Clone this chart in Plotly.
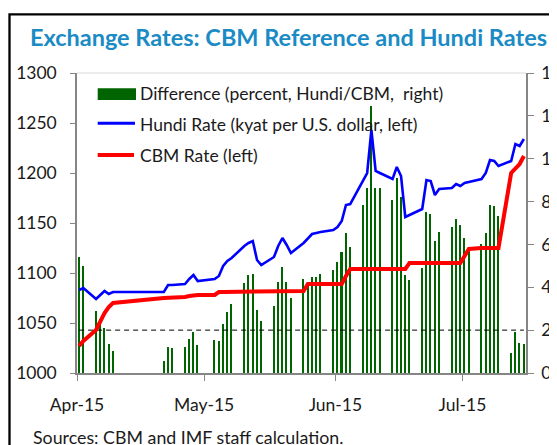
import plotly.graph_objects as go

# ---- data ----
dates = [
    "2015-04-02", "2015-04-03",
    "2015-04-06", "2015-04-07", "2015-04-08", "2015-04-09", "2015-04-10",
    "2015-04-22", "2015-04-23", "2015-04-24",
    "2015-04-27", "2015-04-28", "2015-04-29", "2015-04-30",
    "2015-05-04", "2015-05-05", "2015-05-06", "2015-05-07", "2015-05-08",
    "2015-05-11", "2015-05-12", "2015-05-13", "2015-05-14", "2015-05-15",
    "2015-05-18", "2015-05-19", "2015-05-20", "2015-05-21", "2015-05-22",
    "2015-05-25", "2015-05-26", "2015-05-27", "2015-05-28", "2015-05-29",
    "2015-06-01", "2015-06-02", "2015-06-03", "2015-06-04", "2015-06-05",
    "2015-06-08", "2015-06-09", "2015-06-10", "2015-06-11", "2015-06-12",
    "2015-06-15", "2015-06-16", "2015-06-17", "2015-06-18", "2015-06-19",
    "2015-06-22", "2015-06-23", "2015-06-24", "2015-06-25", "2015-06-26",
    "2015-06-29", "2015-06-30", "2015-07-01", "2015-07-02", "2015-07-03",
    "2015-07-06", "2015-07-07", "2015-07-08", "2015-07-09", "2015-07-10",
    "2015-07-13", "2015-07-14", "2015-07-15", "2015-07-16",
]

hundi_rate = [
    1083, 1085,
    1074, 1078, 1082, 1079, 1081,
    1081, 1088, 1088,
    1089, 1094, 1098, 1092,
    1094, 1097, 1107, 1112, 1115,
    1127, 1130, 1132, 1113, 1108,
    1116, 1127, 1135, 1128, 1120,
    1130, 1135, 1139, 1140, 1141,
    1143, 1146, 1152, 1168, 1169,
    1192, 1200, 1243, 1202, 1200,
    1194, 1206, 1197, 1156, 1158,
    1164, 1193, 1192, 1178, 1184,
    1185, 1189, 1187, 1190, 1191,
    1194, 1200, 1213, 1212, 1207,
    1212, 1229, 1227, 1234,
]

cbm_rate = [
    1027, 1032,
    1043, 1052, 1060, 1066, 1070,
    1075, 1075, 1075,
    1076, 1077, 1078, 1078,
    1078, 1081, 1081, 1081, 1081,
    1081, 1081, 1081, 1081, 1081,
    1081, 1081, 1082, 1082, 1082,
    1082, 1089, 1089, 1089, 1089,
    1089, 1089, 1089, 1097, 1104,
    1104, 1104, 1104, 1104, 1104,
    1104, 1104, 1104, 1104, 1110,
    1110, 1110, 1110, 1110, 1110,
    1110, 1110, 1110, 1117, 1124,
    1125, 1125, 1125, 1125, 1125,
    1200, 1204, 1209, 1217,
]

difference_pct = [
    5.43, 5.00,
    2.90, 2.50, 2.10, 1.37, 1.05,
    0.57, 1.23, 1.17,
    1.23, 1.60, 1.92, 1.31,
    1.55, 1.48, 2.29, 2.85, 3.21,
    4.21, 4.58, 4.63, 2.96, 2.41,
    3.15, 4.27, 4.94, 4.27, 3.52,
    4.40, 4.24, 4.50, 4.46, 4.64,
    4.82, 5.19, 5.63, 6.55, 5.86,
    7.84, 8.65, 12.47, 8.63, 8.63,
    8.09, 9.09, 8.21, 4.58, 4.36,
    4.88, 7.53, 7.40, 6.17, 6.60,
    6.81, 7.17, 6.90, 6.30, 5.80,
    6.00, 6.55, 7.83, 7.78, 7.34,
    0.94, 1.93, 1.42, 1.37,
]

ref_level = 2.0

tick_dates = ["2015-04-01 12:00", "2015-05-01 12:00", "2015-06-01 12:00", "2015-07-01 12:00"]
tick_labels = ["Apr-15", "May-15", "Jun-15", "Jul-15"]

# ---- styling ----
GREEN = "#006400"
BLUE = "#0000FF"
RED = "#FF0000"
AXIS = "#868686"
TEXT = "#1a1a1a"
FONT = "Lato, 'Open Sans', sans-serif"

# the page body adds an 8px margin, so the figure is 8px smaller than the window
OFF = 8
W, H = 557 - OFF, 445 - OFF
L, R, T, B = 77 - OFF, 31, 73 - OFF, 72
PW, PH = W - L - R, H - T - B


# helpers: reference-picture pixels -> paper coordinates
def px(x):
    return (x - OFF - L) / PW


def py(y):
    return (H - B - (y - OFF)) / PH


fig = go.Figure()

# bars on the right-hand axis (drawn underneath the lines)
fig.add_trace(go.Bar(
    x=dates, y=difference_pct, yaxis="y",
    name="Difference (percent, Hundi/CBM,  right)",
    marker=dict(color=GREEN, line=dict(width=0)),
    width=0.36 * 86400000,
    showlegend=False,
))
fig.add_trace(go.Scatter(
    x=[dates[0], dates[-1]], y=[ref_level, ref_level], yaxis="y",
    mode="lines", line=dict(color="#000000", width=1, dash="5px,4px"),
    showlegend=False, hoverinfo="skip",
))
fig.add_trace(go.Scatter(
    x=dates, y=hundi_rate, yaxis="y2", mode="lines",
    name="Hundi Rate (kyat per U.S. dollar, left)",
    line=dict(color=BLUE, width=2.6), showlegend=False,
))
fig.add_trace(go.Scatter(
    x=dates, y=cbm_rate, yaxis="y2", mode="lines",
    name="CBM Rate (left)",
    line=dict(color=RED, width=4), showlegend=False,
))

tickfont = dict(family=FONT, size=17.5, color=TEXT)

fig.update_layout(
    width=W, height=H,
    margin=dict(l=L, r=R, t=T, b=B, autoexpand=False),
    paper_bgcolor="white", plot_bgcolor="white",
    font=dict(family=FONT, color=TEXT),
    bargap=0,
    showlegend=False,
    title=dict(
        text="<b>Exchange Rates: CBM Reference and Hundi Rates</b>",
        font=dict(family=FONT, size=23.5, color="#1a8bc4"),
        x=(288.5 - OFF) / W, xanchor="center", y=1 - (38 - OFF) / H, yanchor="middle",
    ),
    xaxis=dict(
        type="date", automargin=False,
        range=["2015-04-01 12:00", "2015-07-16 12:00"],
        tickvals=tick_dates, ticktext=tick_labels,
        showgrid=False, zeroline=False,
        showline=True, linecolor=AXIS, linewidth=1.5,
        ticks="outside", ticklen=6, tickcolor=AXIS, tickwidth=1,
        tickfont=tickfont, ticklabelstandoff=9,
    ),
    yaxis=dict(
        side="right", range=[0, 14], tickvals=[0, 2, 4, 6, 8, 10, 12, 14],
        automargin=False,
        showgrid=False, zeroline=False,
        showline=True, linecolor=AXIS, linewidth=1.5,
        ticks="outside", ticklen=6, tickcolor=AXIS,
        tickfont=tickfont, ticklabelstandoff=4,
    ),
    yaxis2=dict(
        side="left", overlaying="y", range=[1000, 1300],
        tickvals=[1000, 1050, 1100, 1150, 1200, 1250, 1300],
        automargin=False,
        showgrid=False, zeroline=False,
        showline=True, linecolor=AXIS, linewidth=1.5,
        ticks="outside", ticklen=5, tickcolor=AXIS,
        tickfont=tickfont, ticklabelstandoff=10,
    ),
)

shapes = [
    # plot-area top border
    dict(type="line", xref="paper", yref="paper", x0=0, x1=1, y0=1, y1=1,
         line=dict(color="#d9d9d9", width=1.2)),
    # outer frame (left and top edges visible)
    dict(type="rect", xref="paper", yref="paper",
         x0=px(9.5), x1=px(620), y0=py(490), y1=py(14.3),
         line=dict(color="black", width=2.3), layer="above"),
    # legend swatches
    dict(type="rect", xref="paper", yref="paper",
         x0=px(97.7), x1=px(136), y0=py(100), y1=py(88.3),
         line=dict(width=0), fillcolor=GREEN),
    dict(type="line", xref="paper", yref="paper",
         x0=px(97.7), x1=px(135), y0=py(123.3), y1=py(123.3),
         line=dict(color=BLUE, width=3)),
    dict(type="line", xref="paper", yref="paper",
         x0=px(97.7), x1=px(134), y0=py(155), y1=py(155),
         line=dict(color=RED, width=4)),
]
fig.update_layout(shapes=shapes)

legend_font = dict(family=FONT, size=17.5, color=TEXT)
for label, yc in [
    ("Difference (percent, Hundi/CBM,\u00a0 right)", 93.5),
    ("Hundi Rate (kyat per U.S. dollar, left)", 124),
    ("CBM Rate (left)", 155),
]:
    fig.add_annotation(
        xref="paper", yref="paper", x=px(137.5), y=py(yc),
        xanchor="left", yanchor="middle", text=label,
        showarrow=False, font=legend_font,
    )

fig.add_annotation(
    xref="paper", yref="paper", x=px(31), y=py(437),
    xanchor="left", yanchor="middle",
    text="Sources: CBM and IMF staff calculation.",
    showarrow=False, font=dict(family=FONT, size=17.8, color=TEXT),
)

fig.write_html("out.html")
